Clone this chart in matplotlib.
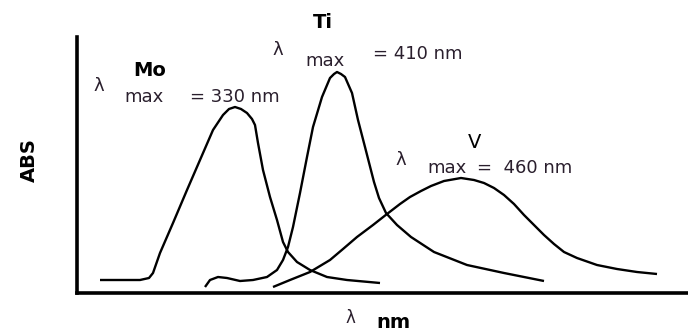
import matplotlib
matplotlib.use("Agg")
import matplotlib.pyplot as plt

# Schematic absorption curves (x, y in arbitrary plot units: x 0..611, y 0..256)
mo_x = [23, 63, 72, 76, 83, 96, 110, 123, 136, 146, 152, 158, 164, 170, 175, 178, 181, 186, 193, 200,
        206, 211, 220, 233, 250, 270, 303]
mo_y = [13, 13, 15, 20, 40, 70, 103, 133, 163, 178, 184, 186, 184, 180, 174, 168, 150, 123, 96, 73,
        51, 41, 31, 23, 16, 13, 10]

ti_x = [128, 133, 141, 150, 163, 176, 190, 200, 206, 211, 216, 223, 230, 236, 245, 253, 257, 260, 264,
        268, 275, 281, 288, 297, 302, 309, 320, 334, 357, 390, 427, 467]
ti_y = [6, 13, 16, 15, 12, 13, 16, 23, 33, 46, 66, 100, 136, 166, 196, 215, 219, 221, 219,
        216, 200, 173, 146, 111, 95, 80, 68, 56, 41, 28, 20, 12]

v_x = [196, 213, 233, 253, 266, 280, 296, 310, 323, 333, 344, 354, 367, 384, 397, 407, 417, 427, 437,
       447, 457, 467, 477, 487, 500, 520, 540, 560, 580]
v_y = [6, 13, 21, 33, 44, 56, 68, 79, 89, 96, 102, 107, 112, 115, 113, 110, 105, 98, 89,
       78, 68, 58, 49, 41, 35, 28, 24, 21, 19]

W, H = 688, 331
fig = plt.figure(figsize=(W / 100, H / 100), dpi=100)


def fx(px):
    return px / W


def fy(py):
    return 1 - py / H


ax = fig.add_axes([fx(77), fy(293), fx(688) - fx(77), fy(37) - fy(293)])
ax.set_xlim(0, 611)
ax.set_ylim(0, 256)
for s in ("top", "right"):
    ax.spines[s].set_visible(False)
for s in ("left", "bottom"):
    ax.spines[s].set_linewidth(2.6)
ax.set_xticks([])
ax.set_yticks([])

for xs, ys in ((mo_x, mo_y), (ti_x, ti_y), (v_x, v_y)):
    ax.plot(xs, ys, color="black", lw=1.7, solid_capstyle="butt", solid_joinstyle="round")

tc = "#2a1f2d"
# Labels
fig.text(fx(150), fy(70), "Mo", fontsize=14, fontweight="bold", ha="center", va="center")
fig.text(fx(323), fy(22), "Ti", fontsize=14, fontweight="bold", ha="center", va="center")
fig.text(fx(475), fy(142), "V", fontsize=14, fontweight="normal", ha="center", va="center")

fig.text(fx(93), fy(86), "λ", fontsize=13, color=tc, ha="left", va="center")
fig.text(fx(124), fy(97), "max", fontsize=13, color=tc, ha="left", va="center")
fig.text(fx(190), fy(97), "= 330 nm", fontsize=13, color=tc, ha="left", va="center")

fig.text(fx(272), fy(50), "λ", fontsize=13, color=tc, ha="left", va="center")
fig.text(fx(305), fy(61), "max", fontsize=13, color=tc, ha="left", va="center")
fig.text(fx(373), fy(54), "= 410 nm", fontsize=13, color=tc, ha="left", va="center")

fig.text(fx(395), fy(160), "λ", fontsize=13, color=tc, ha="left", va="center")
fig.text(fx(427), fy(168), "max", fontsize=13, color=tc, ha="left", va="center")
fig.text(fx(477), fy(168), "=  460 nm", fontsize=13, color=tc, ha="left", va="center")

fig.text(fx(29), fy(160), "ABS", fontsize=14, fontweight="bold", rotation=90, ha="center", va="center")
fig.text(fx(345), fy(318), "λ", fontsize=12, color=tc, ha="left", va="center")
fig.text(fx(376), fy(322), "nm", fontsize=14, fontweight="bold", ha="left", va="center")

fig.savefig("out.png", dpi=100)
